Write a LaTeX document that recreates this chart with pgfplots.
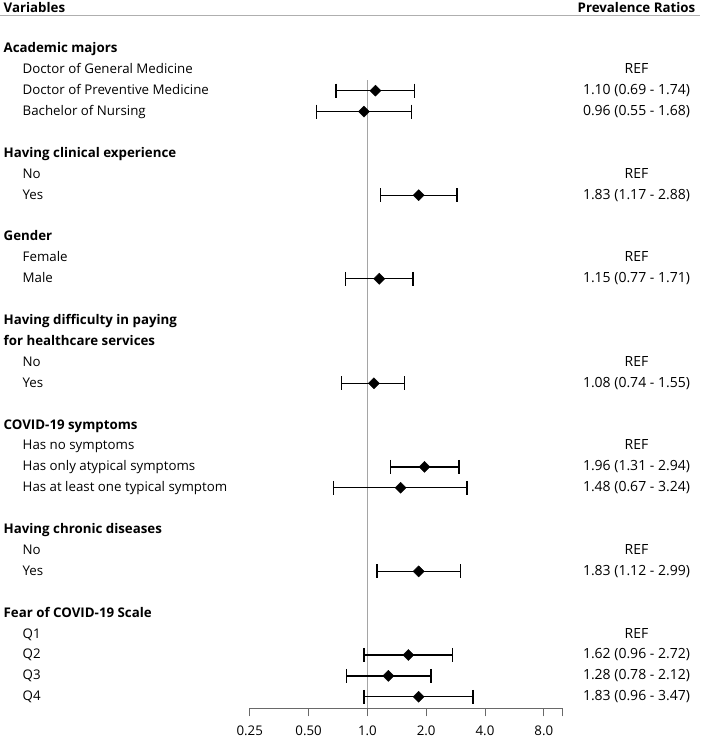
\documentclass[border=0pt]{standalone}
\usepackage{pgfplots}
\pgfplotsset{compat=1.18}
\usepackage{fontspec}
\setmainfont{Open Sans}
\definecolor{axgray}{RGB}{105,105,105}
\definecolor{refgray}{RGB}{165,165,165}
\definecolor{hdgray}{RGB}{175,175,175}
\newcommand{\fs}{\fontsize{13.3bp}{16bp}\selectfont}
\newcommand{\fv}{\fontsize{14bp}{16bp}\selectfont}
\tikzset{
  lh/.style={anchor=base west, inner sep=0pt, font=\fs\bfseries, yshift=-4bp},
  li/.style={anchor=base west, inner sep=0pt, font=\fs, yshift=-4bp},
  rv/.style={anchor=base, inner sep=0pt, font=\fv, yshift=-4bp}
}
\newcommand{\hd}[2]{\node[lh] at ({rel axis cs:-0.787,0}|-{axis cs:1,#1}) {#2};}
\newcommand{\itm}[2]{\node[li] at ({rel axis cs:-0.7262,0}|-{axis cs:1,#1}) {#2};}
\newcommand{\rvl}[2]{\node[rv] at ({rel axis cs:1.2355,0}|-{axis cs:1,#1}) {#2};}
\begin{document}
\begin{tikzpicture}
\begin{axis}[
  scale only axis,
  width=313bp, height=693.3bp,
  xmode=log, log basis x=2,
  xmin=0.25, xmax=10,
  ymin=-31.55, ymax=1.62,
  axis x line*=bottom,
  axis y line=none,
  x axis line style={axgray, line width=1bp},
  xtick={0.25,0.5,1,2,4,8,10},
  xticklabels={0.25,0.50,1.0,2.0,4.0,8.0,{}},
  tick align=outside,
  major tick length=8bp,
  xtick style={axgray, line width=1bp},
  ytick=\empty,
  /pgf/number format/assume math mode=true,
  xticklabel style={font=\fs, anchor=north, inner sep=0pt, yshift=-9.5bp},
  clip=false,
]
% bounding box
\path ({rel axis cs:-0.7965,0}|-{axis cs:1,2.34}) rectangle ({rel axis cs:1.44,0}|-{axis cs:1,-33.02});
% header
\draw[hdgray, line width=1bp] ({rel axis cs:-0.7965,1}) -- ({rel axis cs:1.44,1});
\node[anchor=base west, inner sep=0pt, font=\fs\bfseries] at ({rel axis cs:-0.787,0}|-{axis cs:1,1.732}) {Variables};
\node[anchor=base, inner sep=0pt, font=\fs\bfseries] at ({rel axis cs:1.2355,0}|-{axis cs:1,1.732}) {Prevalence Ratios};
% reference line
\addplot[refgray, line width=1bp, forget plot] coordinates {(1,-1.5) (1,-31.55)};
% confidence intervals
\addplot[black, line width=1.3bp, unbounded coords=jump, mark=|, mark size=7bp, mark options={line width=1.3bp}] coordinates {
(0.69,-2) (1.74,-2) (nan,nan)
(0.55,-3) (1.68,-3) (nan,nan)
(1.17,-7) (2.88,-7) (nan,nan)
(0.77,-11) (1.71,-11) (nan,nan)
(0.74,-16) (1.55,-16) (nan,nan)
(1.31,-20) (2.94,-20) (nan,nan)
(0.67,-21) (3.24,-21) (nan,nan)
(1.12,-25) (2.99,-25) (nan,nan)
(0.96,-29) (2.72,-29) (nan,nan)
(0.78,-30) (2.12,-30) (nan,nan)
(0.96,-31) (3.47,-31)
};
% point estimates
\addplot[only marks, mark=square*, mark size=3.9bp, mark options={rotate=45, fill=black, draw=black}] coordinates {
(1.10,-2) (0.96,-3) (1.83,-7) (1.15,-11) (1.08,-16) (1.96,-20) (1.48,-21) (1.83,-25) (1.62,-29) (1.28,-30) (1.83,-31)
};
% labels
\hd{0}{Academic majors}
\itm{-1}{Doctor of General Medicine}\rvl{-1}{REF}
\itm{-2}{Doctor of Preventive Medicine}\rvl{-2}{1.10 (0.69 - 1.74)}
\itm{-3}{Bachelor of Nursing}\rvl{-3}{0.96 (0.55 - 1.68)}
\hd{-5}{Having clinical experience}
\itm{-6}{No}\rvl{-6}{REF}
\itm{-7}{Yes}\rvl{-7}{1.83 (1.17 - 2.88)}
\hd{-9}{Gender}
\itm{-10}{Female}\rvl{-10}{REF}
\itm{-11}{Male}\rvl{-11}{1.15 (0.77 - 1.71)}
\hd{-13}{Having difficulty in paying}
\hd{-14}{for healthcare services}
\itm{-15}{No}\rvl{-15}{REF}
\itm{-16}{Yes}\rvl{-16}{1.08 (0.74 - 1.55)}
\hd{-18}{COVID-19 symptoms}
\itm{-19}{Has no symptoms}\rvl{-19}{REF}
\itm{-20}{Has only atypical symptoms}\rvl{-20}{1.96 (1.31 - 2.94)}
\itm{-21}{Has at least one typical symptom}\rvl{-21}{1.48 (0.67 - 3.24)}
\hd{-23}{Having chronic diseases}
\itm{-24}{No}\rvl{-24}{REF}
\itm{-25}{Yes}\rvl{-25}{1.83 (1.12 - 2.99)}
\hd{-27}{Fear of COVID-19 Scale}
\itm{-28}{Q1}\rvl{-28}{REF}
\itm{-29}{Q2}\rvl{-29}{1.62 (0.96 - 2.72)}
\itm{-30}{Q3}\rvl{-30}{1.28 (0.78 - 2.12)}
\itm{-31}{Q4}\rvl{-31}{1.83 (0.96 - 3.47)}
\end{axis}
\end{tikzpicture}
\end{document}
